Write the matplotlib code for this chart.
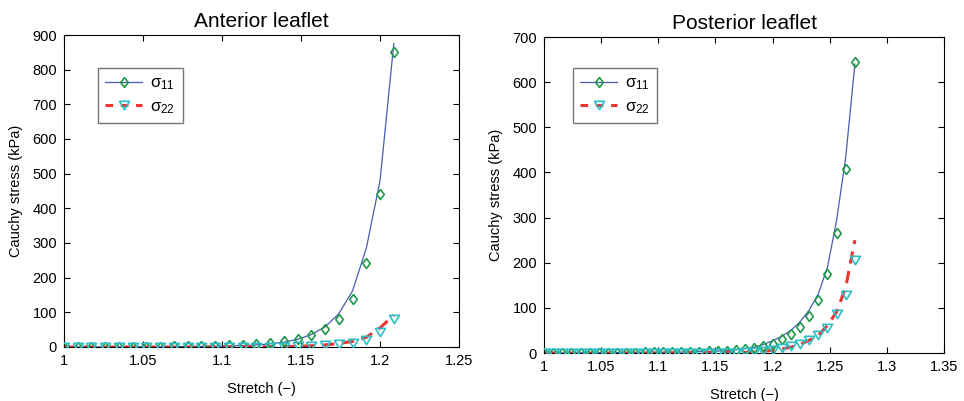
import numpy as np
import matplotlib
matplotlib.use("Agg")
import matplotlib.pyplot as plt
from matplotlib.lines import Line2D
from matplotlib.ticker import FormatStrFormatter

plt.rcParams['font.family'] = ['Liberation Sans', 'DejaVu Sans']
plt.rcParams['mathtext.fontset'] = 'custom'
plt.rcParams['mathtext.rm'] = 'Liberation Sans'
plt.rcParams['mathtext.it'] = 'Liberation Sans'

# Anterior leaflet
ant_stretch = np.linspace(1.0, 1.2087, 25)
ant_s11_data = [0, 0.1, 0.3, 0.4, 0.6, 0.8, 1.0, 1.2, 1.5, 2.0, 2.5, 3.5, 5, 6, 9,
                12.5, 17, 24, 34, 51, 82, 137, 242, 442, 850]
ant_s11_fit = [0, 0.1, 0.2, 0.3, 0.4, 0.5, 0.6, 0.8, 1.0, 1.3, 1.7, 2.2, 3, 4, 6,
               9, 14, 22, 36, 58, 96, 162, 285, 480, 875]
ant_s22_data = [0, 0, 0, 0, 0, 0, 0, 0, 0, 0, 0, 0, 0, 0, 0,
                0.5, 1, 1.5, 2.5, 5, 9, 12, 21, 43, 80]
ant_s22_fit = [0, 0, 0, 0, 0, 0, 0, 0, 0, 0, 0.1, 0.2, 0.3, 0.4, 0.5,
               0.7, 1.2, 2, 3.5, 6, 10, 16, 28, 55, 92]

# Posterior leaflet
post_stretch = np.linspace(1.0, 1.272, 35)
post_s11_data = [0, 0.1, 0.2, 0.3, 0.4, 0.5, 0.6, 0.7, 0.8, 0.9, 1.0, 1.2, 1.4, 1.6, 1.8,
                 2.0, 2.5, 3.0, 3.5, 4.0, 5.0, 6.5, 8, 11, 15, 21, 30, 43, 58, 83,
                 117, 176, 265, 407, 645]
post_s11_fit = [0, 0.1, 0.2, 0.3, 0.4, 0.5, 0.6, 0.7, 0.8, 0.9, 1.0, 1.2, 1.4, 1.6, 1.8,
                2.1, 2.6, 3.1, 3.7, 4.2, 5.0, 7, 9.6, 13, 19, 27, 37, 50, 69, 95,
                131, 190, 294, 434, 640]
post_s22_data = [0, 0, 0, 0, 0, 0, 0, 0, 0, 0, 0, 0, 0, 0, 0,
                 0, 0, 0, 0, 0.3, 0.6, 1.0, 1.5, 2, 4, 6, 10, 15, 21, 28,
                 39, 55, 86, 129, 205]
post_s22_fit = [0, 0, 0, 0, 0, 0, 0, 0, 0, 0, 0.1, 0.1, 0.2, 0.2, 0.3,
                0.4, 0.5, 0.6, 0.8, 1.0, 1.2, 1.5, 1.5, 2.5, 4, 6, 9, 13, 19, 28,
                39, 61, 91, 146, 250]

blue = '#4a5cb0'
red = '#ee3333'
green = '#1e9a4a'
cyan = '#2bbec4'

diamond = [(0, 1), (0.75, 0), (0, -1), (-0.75, 0), (0, 1)]
tri = [(-0.6, 0.5), (0.6, 0.5), (0, -0.5), (-0.6, 0.5)]


def draw(ax, x, s11d, s11f, s22d, s22f, title, xmax, ymax, xt, yt, leg_xy):
    ax.plot(x, s11f, color=blue, lw=0.9, zorder=2)
    ax.plot(x, s22f, color=red, lw=2.2, ls=(0, (4, 2.5)), zorder=2)
    ax.plot(x, s11d, ls='none', marker=diamond, ms=7.2, mfc='none', mec=green,
            mew=1.2, zorder=3)
    ax.plot(x, s22d, ls='none', marker=tri, ms=7.2, mfc='none', mec=cyan,
            mew=1.2, zorder=3)
    ax.set_xlim(1, xmax)
    ax.set_ylim(0, ymax)
    ax.set_xticks(xt)
    ax.set_yticks(yt)
    ax.xaxis.set_major_formatter(FormatStrFormatter('%g'))
    ax.tick_params(direction='in', top=True, right=True, length=4, width=0.8,
                   labelsize=10.5, pad=5)
    for s in ax.spines.values():
        s.set_linewidth(0.8)
    ax.set_title(title, fontsize=15, pad=6)
    ax.set_xlabel('Stretch (\u2212)', fontsize=10.5, labelpad=10)
    ax.set_ylabel('Cauchy stress (kPa)', fontsize=10.5, labelpad=7)
    h1 = Line2D([], [], color=blue, lw=0.9, marker=diamond, ms=7.2, mfc='none',
                mec=green, mew=1.2)
    h2 = Line2D([], [], color=red, lw=2.2, ls=(0, (2.5, 2.5)), marker=tri, ms=7.2,
                mfc='none', mec=cyan, mew=1.2)
    leg = ax.legend([h1, h2], [r'$\sigma_{11}$', r'$\sigma_{22}$'], loc='upper left',
                    bbox_to_anchor=leg_xy, borderaxespad=0, numpoints=1,
                    fontsize=12, frameon=True, fancybox=False, edgecolor='#555555',
                    handlelength=2.2, borderpad=0.45, labelspacing=0.4,
                    handletextpad=0.5)
    leg.get_frame().set_linewidth(1.0)


fig = plt.figure(figsize=(9.64, 4.01), dpi=100)
ax1 = fig.add_axes([0.0664, 0.1347, 0.4098, 0.778])
ax2 = fig.add_axes([0.5643, 0.1197, 0.415, 0.788])

draw(ax1, ant_stretch, ant_s11_data, ant_s11_fit, ant_s22_data, ant_s22_fit,
     'Anterior leaflet', 1.25, 900, [1, 1.05, 1.1, 1.15, 1.2, 1.25],
     range(0, 901, 100), (0.086, 0.894))
draw(ax2, post_stretch, post_s11_data, post_s11_fit, post_s22_data, post_s22_fit,
     'Posterior leaflet', 1.35, 700, [1, 1.05, 1.1, 1.15, 1.2, 1.25, 1.3, 1.35],
     range(0, 701, 100), (0.072, 0.902))

fig.savefig('out.png', dpi=100)
